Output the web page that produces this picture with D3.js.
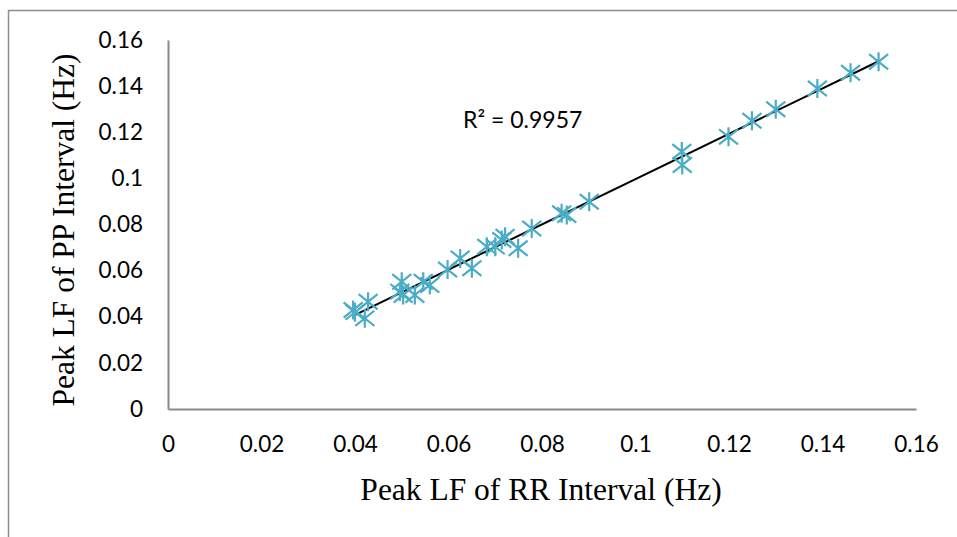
<!DOCTYPE html>
<html>
<head>
<meta charset="utf-8">
<script src="https://d3js.org/d3.v7.min.js"></script>
<style>
  body { margin: 0; background: #fff; }
</style>
</head>
<body>
<div id="chart"></div>
<script>
// Data (RR peak LF, PP peak LF)
const rrValues = [0.0396, 0.0400, 0.0421, 0.0428, 0.0500, 0.0496, 0.0503, 0.0528, 0.0546, 0.0560,
                  0.0598, 0.0625, 0.0650, 0.0682, 0.0700, 0.0714, 0.0721, 0.0749, 0.0778, 0.0842,
                  0.0853, 0.0901, 0.1099, 0.1100, 0.1199, 0.1249, 0.1300, 0.1389, 0.1460, 0.1520];
const ppValues = [0.0429, 0.0420, 0.0393, 0.0465, 0.0552, 0.0509, 0.0494, 0.0494, 0.0552, 0.0538,
                  0.0605, 0.0653, 0.0610, 0.0704, 0.0704, 0.0733, 0.0747, 0.0697, 0.0783, 0.0849,
                  0.0841, 0.0899, 0.1116, 0.1058, 0.1180, 0.1250, 0.1300, 0.1390, 0.1458, 0.1506];
const xTicks = [0, 0.02, 0.04, 0.06, 0.08, 0.1, 0.12, 0.14, 0.16];
const yTicks = [0, 0.02, 0.04, 0.06, 0.08, 0.1, 0.12, 0.14, 0.16];
const xTickLabels = ["0", "0.02", "0.04", "0.06", "0.08", "0.1", "0.12", "0.14", "0.16"];
const yTickLabels = ["0", "0.02", "0.04", "0.06", "0.08", "0.1", "0.12", "0.14", "0.16"];
const r2Label = "R² = 0.9957";

const W = 957, H = 537;
const plot = { left: 168, right: 916, top: 40, bottom: 409 };
const markerColor = "#4BACC6";
const axisColor = "#898989";
const tickFont = "Lato, 'Open Sans', sans-serif";
const titleFont = "'Liberation Serif', 'Times New Roman', serif";

const svg = d3.select("#chart")
    .append("svg")
    .attr("width", W)
    .attr("height", H);

// Outer chart frame
svg.append("path")
    .attr("d", `M8.5,${H + 2} V10.5 H${W + 2}`)
    .attr("fill", "none")
    .attr("stroke", "#8c8c8c")
    .attr("stroke-width", 1.5);

const x = d3.scaleLinear().domain([0, 0.16]).range([plot.left, plot.right]);
const y = d3.scaleLinear().domain([0, 0.16]).range([plot.bottom, plot.top]);

// Axes (no tick marks, gray domain line)
const xAxis = svg.append("g")
    .attr("transform", `translate(0,${plot.bottom})`)
    .call(d3.axisBottom(x).tickValues(xTicks).tickSize(0).tickPadding(27)
        .tickFormat((d, i) => xTickLabels[i]));
const yAxis = svg.append("g")
    .attr("transform", `translate(${plot.left},0)`)
    .call(d3.axisLeft(y).tickValues(yTicks).tickSize(0).tickPadding(25)
        .tickFormat((d, i) => yTickLabels[i]));

[xAxis, yAxis].forEach(g => {
    g.select(".domain").attr("stroke", axisColor).attr("stroke-width", 2);
    g.selectAll("text")
        .attr("font-family", tickFont)
        .attr("font-size", 22.5)
        .attr("fill", "#000");
});

// Axis titles
svg.append("text")
    .attr("x", 541)
    .attr("y", 500)
    .attr("text-anchor", "middle")
    .attr("font-family", titleFont)
    .attr("font-size", 31.5)
    .text("Peak LF of RR Interval (Hz)");

svg.append("text")
    .attr("transform", "translate(74,230) rotate(-90)")
    .attr("text-anchor", "middle")
    .attr("font-family", titleFont)
    .attr("font-size", 31.5)
    .text("Peak LF of PP Interval (Hz)");

// Linear trendline from least squares on the data
const n = rrValues.length;
const mx = d3.mean(rrValues), my = d3.mean(ppValues);
let sxy = 0, sxx = 0;
for (let i = 0; i < n; i++) {
    sxy += (rrValues[i] - mx) * (ppValues[i] - my);
    sxx += (rrValues[i] - mx) ** 2;
}
const slope = sxy / sxx;
const intercept = my - slope * mx;
const [xMin, xMax] = d3.extent(rrValues);

svg.append("line")
    .attr("x1", x(xMin))
    .attr("y1", y(intercept + slope * xMin))
    .attr("x2", x(xMax))
    .attr("y2", y(intercept + slope * xMax))
    .attr("stroke", "#000")
    .attr("stroke-width", 2);

// Star markers
const r = 9.5;
const star = `M0,${-r}V${r}M${-r},${-r * 0.8}L${r},${r * 0.8}M${-r},${r * 0.8}L${r},${-r * 0.8}`;
svg.append("g")
    .selectAll("path")
    .data(rrValues.map((v, i) => [v, ppValues[i]]))
    .join("path")
    .attr("transform", d => `translate(${x(d[0])},${y(d[1])})`)
    .attr("d", star)
    .attr("fill", "none")
    .attr("stroke", markerColor)
    .attr("stroke-width", 2.2);

// R squared label
svg.append("text")
    .attr("x", 463)
    .attr("y", 128)
    .attr("font-family", tickFont)
    .attr("font-size", 23)
    .text(r2Label);
</script>
</body>
</html>
